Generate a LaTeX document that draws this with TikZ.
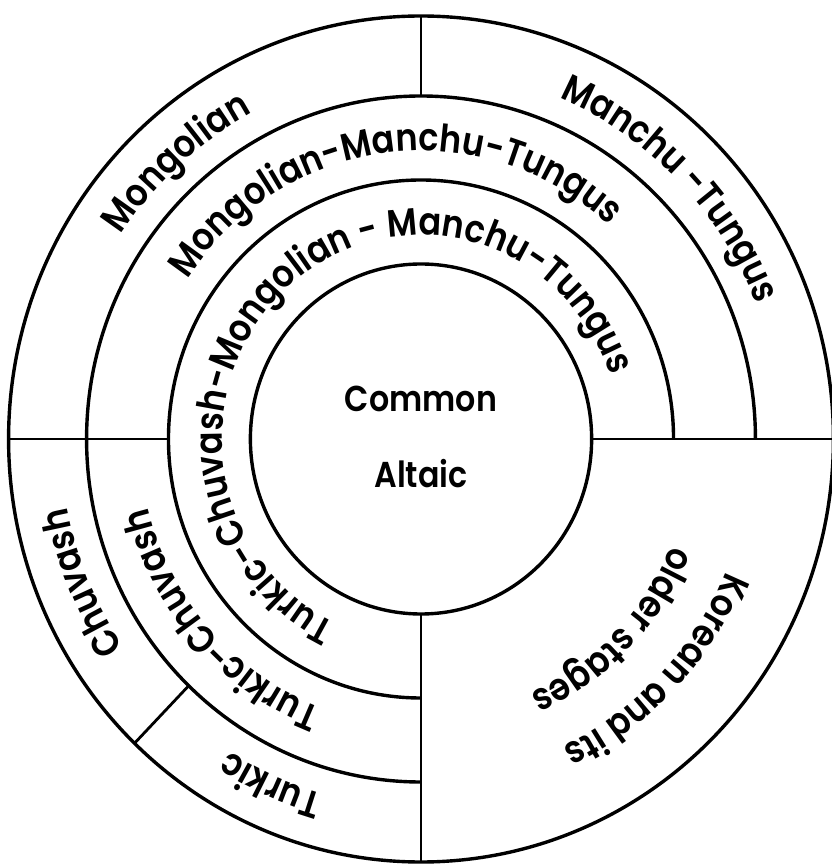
\documentclass[tikz,border=0pt]{standalone}
\usepackage{fontspec}
\setmainfont{Poppins}
\newfontfamily\ringfont{Poppins}[UprightFont=* SemiBold, FakeStretch=0.88]
\usetikzlibrary{decorations.text}
\tikzset{
ring/.style={line width=1.7pt},
divider/.style={line width=1.4pt},
ringlabel/.style={decorate, decoration={text along path, text align=center,
  text={|\ringfont\fontsize{19}{22}\selectfont|#1}}},
centrelabel/.style={font=\ringfont\fontsize{18}{21}\selectfont, anchor=base, inner sep=0pt},
}
\begin{document}
\begin{tikzpicture}[x=0.4875pt, y=0.5pt]
\useasboundingbox (-431.8,-427) rectangle (420.5,439);
% rings
\draw[ring] (0,0) circle (175);
\draw[ring] (0,0) circle (423);
\draw[ring] (0:259) arc[start angle=0, end angle=270, radius=259];
\draw[ring] (0:343) arc[start angle=0, end angle=270, radius=343];
% dividers
\coordinate (topin) at (90:343);   \coordinate (topout) at (90:423);
\coordinate (leftin) at (180:259); \coordinate (leftout) at (180:423);
\coordinate (rightin) at (0:175);  \coordinate (rightout) at (0:423);
\coordinate (botin) at (270:175);  \coordinate (botout) at (270:423);
\coordinate (diagin) at (226:343); \coordinate (diagout) at (226:423);
\draw[divider] (topin) -- (topout);
\draw[divider] (leftin) -- (leftout);
\draw[divider] (rightin) -- (rightout);
\draw[divider] (botin) -- (botout);
\draw[divider] (diagin) -- (diagout);
% centre
\node[centrelabel] (common) at (0,27) {Common};
\node[centrelabel] (altaic) at (0,-48) {Altaic};
% outer ring
\path[ringlabel=Mongolian] (221.5:369) arc[start angle=221.5, end angle=41.5, radius=369];
\path[ringlabel={Manchu -Tungus}] (135:369) arc[start angle=135, end angle=-45, radius=369];
\path[ringlabel=Chuvash] (293:369) arc[start angle=293, end angle=113, radius=369];
\path[ringlabel=Turkic] (336.5:369) arc[start angle=336.5, end angle=156.5, radius=369];
% second ring
\path[ringlabel={Mongolian-Manchu-Tungus}] (187:288) arc[start angle=187, end angle=7, radius=288];
\path[ringlabel={Turkic-Chuvash}] (312:288) arc[start angle=312, end angle=132, radius=288];
% third ring
\path[ringlabel={Turkic-Chuvash-Mongolian - Manchu-Tungus}] (256.5:204) arc[start angle=256.5, end angle=6.5, radius=204];
% korean
\path[ringlabel={Korean and its}] (45.5:340) arc[start angle=45.5, end angle=-134.5, radius=340];
\path[ringlabel={older stages}] (45:278) arc[start angle=45, end angle=-135, radius=278];
\end{tikzpicture}
\end{document}
